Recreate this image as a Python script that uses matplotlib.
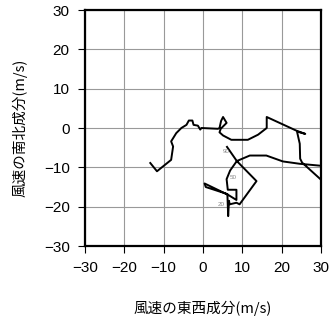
import matplotlib
matplotlib.use("Agg")
import matplotlib.pyplot as plt

# Hodograph: east-west (u) and north-south (v) wind components (m/s)
u = [-13.4, -11.7, -8.1, -7.6, -8.1, -6.8, -5.5, -4.2, -3.6, -2.7, -2.4, -1.3, -0.7, -0.4,
     3.8, 4.2, 4.6, 5.1, 6.0, 4.5, 4.2, 5.1, 7.2, 11.4, 14.0, 16.2, 16.2, 23.8, 26.0,
     23.9, 24.6, 24.7, 25.2, 31.5, 32.0, 30.0, 24.6, 20.3, 16.1, 11.9, 8.6,
     6.9, 6.0, 6.3, 8.5, 8.5, 6.4, 0.4, 0.7, 6.2, 6.4, 6.6, 6.8, 8.5, 9.3, 13.6, 8.6, 6.1]
v = [-8.9, -11.0, -8.1, -4.7, -3.4, -1.3, 0.0, 0.8, 1.9, 1.9, 0.8, 0.6, -0.4, 0.0,
     -0.2, 0.0, 1.8, 2.8, 1.3, -0.2, -1.1, -1.9, -3.0, -3.0, -1.7, 0.0, 2.8, -0.7, -1.5,
     -0.9, -4.0, -7.8, -8.8, -14.5, -10.0, -9.6, -9.1, -8.5, -7.0, -7.0, -8.4,
     -10.8, -13.0, -15.7, -15.7, -18.3, -17.0, -14.1, -15.0, -16.8, -22.4, -18.5, -19.4, -19.0, -19.4, -13.5, -8.4, -4.8]

label_text = ["90", "50", "20"]
label_u = [5.8, 7.7, 4.5]
label_v = [-6.0, -12.6, -19.4]

ticks = [-30, -20, -10, 0, 10, 20, 30]
tick_labels = ["\u221230", "\u221220", "\u221210", "0", "10", "20", "30"]

plt.rcParams['font.family'] = ['Liberation Sans', 'Noto Sans CJK JP', 'DejaVu Sans']

W, H = 331, 318
fig = plt.figure(figsize=(W / 100, H / 100), dpi=100)
ax = fig.add_axes([85 / W, 1 - 246 / H, (321 - 85) / W, (246 - 10) / H])

ax.set_xlim(-30, 30)
ax.set_ylim(-30, 30)
ax.set_xticks(ticks)
ax.set_yticks(ticks)
ax.set_xticklabels(tick_labels, fontsize=11)
ax.set_yticklabels(tick_labels, fontsize=11)
ax.tick_params(direction='out', length=5, width=0.8, pad=6, colors='black')
ax.grid(True, color='#999999', linewidth=0.8)
ax.set_axisbelow(True)
for s in ax.spines.values():
    s.set_linewidth(1.6)
    s.set_color('black')

ax.plot(u, v, color='black', linewidth=1.4, clip_on=True, zorder=3)
for t, x, y in zip(label_text, label_u, label_v):
    ax.text(x, y, t, fontsize=4.5, color='#888888', ha='center', va='center', zorder=4)

ax.set_xlabel("風速の東西成分(m/s)", fontsize=10.5,
              family=['Noto Sans CJK JP', 'DejaVu Sans'], labelpad=18)
ax.set_ylabel("風速の南北成分(m/s)", fontsize=10.5,
              family=['Noto Sans CJK JP', 'DejaVu Sans'], labelpad=12)

fig.savefig("out.png", dpi=100)
